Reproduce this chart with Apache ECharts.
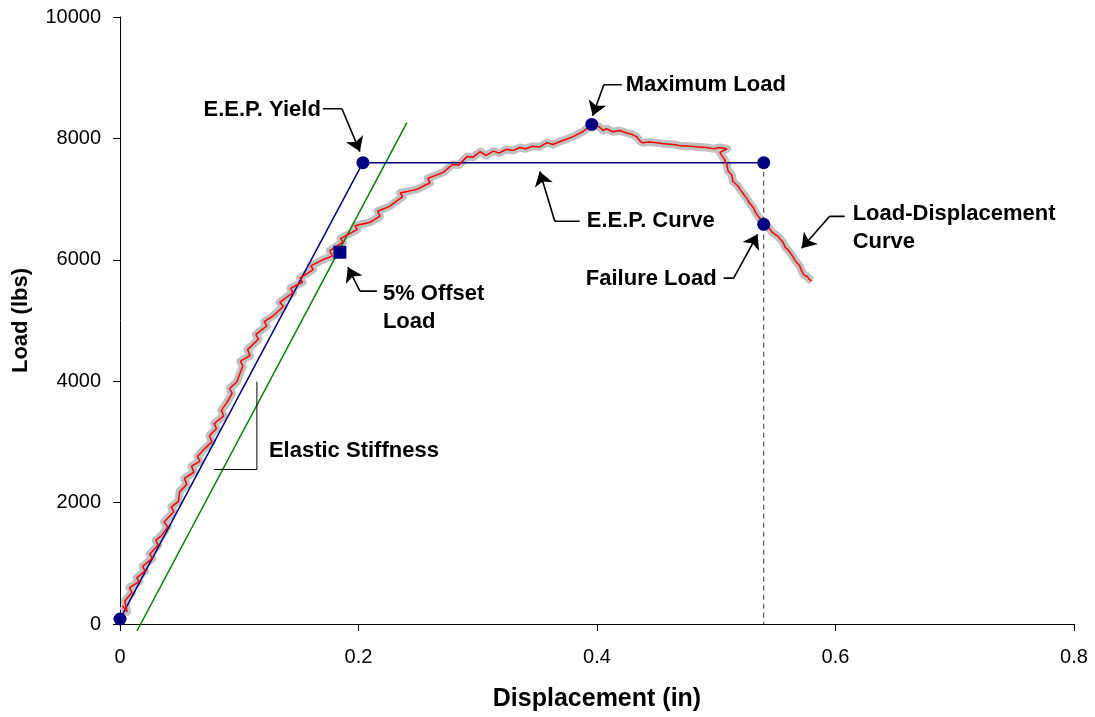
<!DOCTYPE html>
<html>
<head>
<meta charset="utf-8">
<script src="https://cdn.jsdelivr.net/npm/echarts@6/dist/echarts.min.js"></script>
<style>
html,body{margin:0;padding:0;background:#fff;}
#c{width:1095px;height:717px;}
</style>
</head>
<body>
<div id="c"></div>
<script>
// ---- Data (displacement in, load lbs) ----
var loadDisplacement = [
[0.002,300],[0.006,200],[0.004,380],[0.010,520],[0.008,600],[0.016,700],[0.014,760],[0.021,870],[0.019,950],
[0.027,1080],[0.025,1150],[0.032,1300],[0.030,1380],[0.035,1460],[0.040,1600],[0.037,1680],[0.045,1850],
[0.043,1930],[0.049,2020],[0.050,2180],[0.056,2300],[0.054,2400],[0.062,2500],[0.060,2600],[0.067,2680],
[0.065,2760],[0.071,2890],[0.077,3000],[0.075,3100],[0.081,3220],[0.079,3300],[0.087,3430],[0.085,3520],
[0.090,3660],[0.094,3800],[0.092,3880],[0.098,3990],
[0.103,4250],[0.101,4330],[0.109,4420],[0.107,4520],[0.116,4690],[0.114,4770],[0.123,4910],[0.121,4980],
[0.128,5070],[0.137,5230],[0.134,5300],[0.145,5460],[0.143,5530],[0.153,5630],[0.151,5700],[0.162,5840],
[0.160,5900],[0.170,6000],[0.178,6060],[0.176,6150],[0.187,6290],[0.185,6350],[0.199,6500],[0.197,6560],
[0.210,6620],[0.218,6720],[0.216,6800],[0.226,6880],[0.237,7040],[0.235,7100],[0.249,7160],[0.260,7270],
[0.258,7340],[0.271,7440],[0.277,7540],
[0.279,7570],[0.284,7560],[0.291,7700],[0.296,7690],[0.302,7780],[0.307,7720],[0.313,7790],[0.318,7760],
[0.324,7820],[0.330,7800],[0.335,7850],[0.340,7830],[0.346,7870],[0.352,7860],[0.358,7930],[0.363,7900],
[0.369,7950],[0.375,7990],[0.380,8030],[0.384,8070],[0.388,8110],[0.392,8170],[0.396,8230],[0.402,8190],
[0.405,8130],[0.408,8160],[0.413,8110],[0.419,8130],[0.425,8090],[0.429,8070],[0.433,8030],[0.436,7960],
[0.438,7930],[0.444,7940],[0.450,7930],[0.456,7910],[0.464,7900],[0.470,7880],[0.478,7870],[0.485,7860],
[0.492,7850],[0.498,7830],[0.503,7850],[0.509,7830],[0.503,7770],[0.507,7650],[0.509,7560],[0.510,7460],
[0.513,7400],[0.514,7290],[0.518,7220],[0.520,7160],[0.523,7080],[0.526,7000],[0.528,6930],[0.531,6860],
[0.533,6780],[0.535,6720],[0.538,6650],[0.541,6580],[0.544,6530],[0.547,6450],[0.551,6400],[0.556,6290],
[0.558,6200],[0.560,6170],[0.564,6060],[0.566,5990],[0.570,5900],[0.572,5800],[0.574,5740],[0.576,5730],
[0.578,5680],[0.580,5650]
];
var elasticLine = [[0,82],[0.2037,7600]];
var eepLine = [[0.2037,7600],[0.5398,7600]];
var offsetLine = [[0.0142,-115],[0.2406,8260]];
var failureDrop = [[0.5398,7600],[0.5398,0]];
var keyPoints = [[0,82],[0.2037,7600],[0.5398,7600],[0.3956,8230],[0.5398,6585]];
var offsetPoint = [[0.1844,6125]];

var xTicks = [0, 0.2, 0.4, 0.6, 0.8];
var yTicks = [0, 2000, 4000, 6000, 8000, 10000];

// annotation leaders (data coords); last segment carries the arrow head
var leaders = [
  [[0.1701,8489],[0.1861,8489],[0.2012,7783]],
  [[0.4208,8883],[0.4057,8883],[0.3964,8374]],
  [[0.3855,6634],[0.3646,6634],[0.3520,7455]],
  [[0.2154,5484],[0.2012,5484],[0.1911,5878]],
  [[0.5062,5698],[0.5146,5698],[0.5347,6420]],
  [[0.6077,6716],[0.5951,6716],[0.5716,6190]]
];
var bracket = [[0.0788,2545],[0.1148,2545],[0.1148,3990]];
var labelsLeftAligned = [
  {text:'Maximum Load', at:[0.4224,8883]},
  {text:'E.E.P. Curve', at:[0.3897,6634]},
  {text:'5% Offset\nLoad', at:[0.2188,5205]},
  {text:'Load-Displacement\nCurve', at:[0.6127,6519]},
  {text:'Elastic Stiffness', at:[0.1232,2857]}
];
var labelsRightAligned = [
  {text:'E.E.P. Yield', at:[0.1701,8472]},
  {text:'Failure Load', at:[0.5020,5681]}
];

var FONT = '"Liberation Sans", Arial, sans-serif';
var chart = echarts.init(document.getElementById('c'), null, {renderer:'canvas'});

function labelSeries(list, pos) {
  return {
    type:'scatter', symbolSize:0, silent:true, z:20,
    itemStyle:{opacity:1},
    data: list.map(function(d){ return {value:d.at, name:d.text}; }),
    label:{show:true, position:pos, distance:2, formatter:function(p){return p.name;},
      color:'#000', opacity:1, fontFamily:FONT, fontWeight:'bold', fontSize:22, lineHeight:28,
      align: pos === 'right' ? 'left' : 'right'}
  };
}

var option = {
  animation:false,
  backgroundColor:'#fff',
  grid:{left:120, right:21, top:17, bottom:91, containLabel:false},
  xAxis:{
    type:'value', min:0, max:0.8, interval:0.2,
    name:'Displacement (in)', nameLocation:'middle', nameGap:63,
    nameTextStyle:{fontFamily:FONT, fontWeight:'bold', fontSize:25, color:'#000'},
    axisLine:{show:true, onZero:false, lineStyle:{color:'#000', width:1}},
    axisTick:{show:true, length:7, lineStyle:{color:'#000'}},
    axisLabel:{margin:23, fontFamily:FONT, fontSize:20, color:'#000',
      formatter:function(v){ var i = xTicks.indexOf(Math.round(v*10)/10); return i>=0 ? String(xTicks[i]) : ''; }},
    splitLine:{show:false}
  },
  yAxis:{
    type:'value', min:0, max:10000, interval:2000,
    name:'Load (lbs)', nameLocation:'middle', nameGap:88, nameRotate:90,
    nameTextStyle:{fontFamily:FONT, fontWeight:'bold', fontSize:22, color:'#000'},
    axisLine:{show:true, onZero:false, lineStyle:{color:'#000', width:1}},
    axisTick:{show:true, length:7, lineStyle:{color:'#000'}},
    axisLabel:{margin:19, fontFamily:FONT, fontSize:20, color:'#000',
      formatter:function(v){ return yTicks.indexOf(v)>=0 ? String(v) : ''; }},
    splitLine:{show:false}
  },
  series:[
    {type:'line', data:loadDisplacement, symbol:'none', silent:true, z:2,
      lineStyle:{color:'#c0c0c0', width:8, join:'round'}},
    {type:'line', data:offsetLine, symbol:'none', silent:true, z:3, clip:false,
      lineStyle:{color:'#008000', width:1.5}},
    {type:'line', data:elasticLine, symbol:'none', silent:true, z:3,
      lineStyle:{color:'#000080', width:1.5}},
    {type:'line', data:eepLine, symbol:'none', silent:true, z:3,
      lineStyle:{color:'#000080', width:1.5}},
    {type:'line', data:loadDisplacement, symbol:'none', silent:true, z:4,
      lineStyle:{color:'#ff0000', width:1.5}},
    {type:'line', data:failureDrop, symbol:'none', silent:true, z:3,
      lineStyle:{color:'#333', width:1, type:[5,4]}},
    {type:'scatter', data:keyPoints, symbol:'circle', symbolSize:13, silent:true, z:6,
      itemStyle:{color:'#000080', opacity:1}},
    {type:'scatter', data:offsetPoint, symbol:'rect', symbolSize:13, silent:true, z:6,
      itemStyle:{color:'#000080', opacity:1}},
    {type:'lines', coordinateSystem:'cartesian2d', polyline:true, silent:true, z:10,
      lineStyle:{color:'#000', width:1.6, opacity:1},
      data: leaders.map(function(c){ return {coords:c.slice(0, c.length-1)}; })},
    {type:'lines', coordinateSystem:'cartesian2d', polyline:false, silent:true, z:10,
      symbol:['none','arrow'], symbolSize:[1,14],
      lineStyle:{color:'#000', width:1.6, opacity:1},
      itemStyle:{color:'#000'},
      data: leaders.map(function(c){ return {coords:[c[c.length-2], c[c.length-1]]}; })},
    {type:'lines', coordinateSystem:'cartesian2d', polyline:true, silent:true, z:10,
      lineStyle:{color:'#000', width:1, opacity:1},
      data:[{coords:bracket}]},
    labelSeries(labelsLeftAligned, 'right'),
    labelSeries(labelsRightAligned, 'left')
  ]
};
chart.setOption(option);
</script>
</body>
</html>
